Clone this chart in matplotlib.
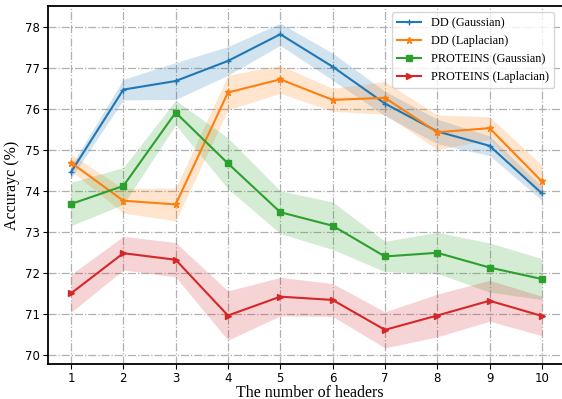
import numpy as np
import matplotlib
matplotlib.use("Agg")
import matplotlib.pyplot as plt

heads = [1, 2, 3, 4, 5, 6, 7, 8, 9, 10]

dd_gauss = [74.46, 76.47, 76.68, 77.17, 77.82, 77.03, 76.13, 75.45, 75.10, 73.94]
dd_gauss_std = [0.15, 0.25, 0.45, 0.35, 0.27, 0.33, 0.30, 0.30, 0.24, 0.17]

dd_lap = [74.69, 73.76, 73.67, 76.40, 76.72, 76.22, 76.27, 75.43, 75.53, 74.23]
dd_lap_std = [0.20, 0.30, 0.40, 0.42, 0.34, 0.28, 0.40, 0.42, 0.28, 0.40]

pr_gauss = [73.68, 74.12, 75.91, 74.67, 73.48, 73.15, 72.40, 72.49, 72.13, 71.85]
pr_gauss_std = [0.53, 0.45, 0.30, 0.62, 0.52, 0.58, 0.37, 0.50, 0.60, 0.50]

pr_lap = [71.50, 72.48, 72.32, 70.96, 71.42, 71.34, 70.61, 70.96, 71.32, 70.95]
pr_lap_std = [0.46, 0.41, 0.42, 0.60, 0.47, 0.40, 0.44, 0.52, 0.50, 0.48]

series = [
    ("DD (Gaussian)", dd_gauss, dd_gauss_std, "#1f77b4", "+"),
    ("DD (Laplacian)", dd_lap, dd_lap_std, "#ff7f0e", "*"),
    ("PROTEINS (Gaussian)", pr_gauss, pr_gauss_std, "#2ca02c", "s"),
    ("PROTEINS (Laplacian)", pr_lap, pr_lap_std, "#d62728", ">"),
]

fig = plt.figure(figsize=(5.62, 3.99), dpi=100)
# axes run a bit past the right edge, like the cropped original
ax = fig.add_axes([0.0854, 0.088, 0.93, 0.897])

for name, vals, std, col, mk in series:
    vals = np.array(vals)
    std = np.array(std)
    ax.plot(heads, vals, color=col, marker=mk, markersize=5, linewidth=1.5, label=name)
    ax.fill_between(heads, vals - std, vals + std, color=col, alpha=0.2, linewidth=0)

ax.set_xlim(0.56, 10.55)
ax.set_ylim(69.78, 78.51)
ax.set_xticks(heads)
ax.set_yticks([70, 71, 72, 73, 74, 75, 76, 77, 78])
ax.tick_params(labelsize=8.5, pad=2)
ax.grid(True, linestyle="-.", color="#b0b0b0", linewidth=0.9)
ax.set_axisbelow(True)
for s in ax.spines.values():
    s.set_linewidth(1.3)

ax.set_xlabel("The number of headers", fontfamily="Liberation Serif", fontsize=11.5, labelpad=0)
ax.set_ylabel("Accurayc (%)", fontfamily="Liberation Serif", fontsize=11.5, labelpad=4)
ax.legend(loc="upper right", bbox_to_anchor=(0.98, 1.0),
          prop={"family": "Liberation Serif", "size": 8.8})

fig.savefig("out.png", dpi=100)
